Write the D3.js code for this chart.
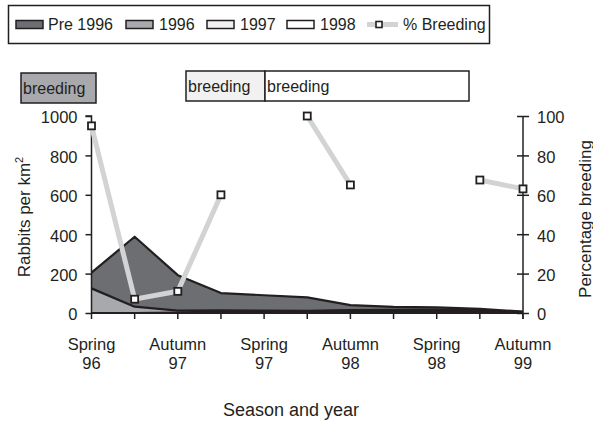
<!DOCTYPE html>
<html><head><meta charset="utf-8">
<script src="https://cdn.jsdelivr.net/npm/d3@7"></script>
<style>body{margin:0;background:#fff}svg{display:block;font-family:"Liberation Sans",Arial,sans-serif}</style>
</head><body><svg id="c" width="593" height="427"></svg>
<script>
const periods = ["Spring 96","","Autumn 97","","Spring 97","","Autumn 98","","Spring 98","","Autumn 99"];
const xLabels = [["Spring","96"],["Autumn","97"],["Spring","97"],["Autumn","98"],["Spring","98"],["Autumn","99"]];
const pre1996 = [80, 355, 180, 88, 78, 68, 25, 15, 12, 8, 2];
const y1996   = [125, 32, 10, 5, 4, 3, 3, 2, 2, 1, 0];
const y1997   = [0, 0, 2, 8, 8, 8, 8, 6, 5, 4, 2];
const y1998   = [0, 0, 0, 0, 0, 0, 4, 8, 10, 8, 3];
const breeding = [95, 7, 11, 60, null, 100, 65, null, null, 67.5, 63];
const leftTicks = [0,200,400,600,800,1000];
const rightTicks = [0,20,40,60,80,100];

const ink = "#231f20";
const colors = {"Pre 1996":"#6d6e71","1996":"#a7a9ac","1997":"#f1f1f2","1998":"#ffffff"};
const svg = d3.select("#c");
const X0 = 91.5, X1 = 523, Y0 = 313, Y1 = 116;
const x = d3.scaleLinear().domain([0, periods.length-1]).range([X0, X1]);
const yL = d3.scaleLinear().domain([0,1000]).range([Y0, Y1]);
const yR = d3.scaleLinear().domain([0,100]).range([Y0, Y1]);

// stacked areas
const rows = periods.map((p,i)=>({i, "1998":y1998[i], "1997":y1997[i], "1996":y1996[i], "Pre 1996":pre1996[i]}));
const keys = ["1998","1997","1996","Pre 1996"];
const stack = d3.stack().keys(keys)(rows);
const area = d3.area().x(d=>x(d.data.i)).y0(d=>yL(d[0])).y1(d=>yL(d[1]));
const topLine = d3.line().x(d=>x(d.data.i)).y(d=>yL(d[1]));
svg.append("g").selectAll("path").data(stack.slice().reverse()).join("path")
  .attr("d", area).attr("fill", d=>colors[d.key]);
svg.append("g").selectAll("path").data(stack).join("path")
  .attr("d", topLine).attr("fill","none").attr("stroke", ink).attr("stroke-width",2.2).attr("stroke-linejoin","round");

// x axis
svg.append("line").attr("x1",X0).attr("x2",X1).attr("y1",Y0).attr("y2",Y0).attr("stroke",ink).attr("stroke-width",2.2);
svg.append("g").selectAll("line").data(periods.map((p,i)=>i)).join("line")
  .attr("x1",d=>x(d)).attr("x2",d=>x(d)).attr("y1",Y0).attr("y2",Y0+6).attr("stroke",ink).attr("stroke-width",1.5);
const xl = svg.append("g").attr("font-size",16.5).attr("fill",ink).attr("text-anchor","middle");
xLabels.forEach((l,k)=>{
  xl.append("text").attr("x",x(k*2)).attr("y",349.5).text(l[0]);
  xl.append("text").attr("x",x(k*2)).attr("y",368.5).text(l[1]);
});
svg.append("text").attr("x",291).attr("y",416).attr("text-anchor","middle").attr("font-size",18).attr("fill",ink).text("Season and year");

// left axis
const gL = svg.append("g").attr("transform",`translate(${X0},0)`)
  .call(d3.axisLeft(yL).tickValues(leftTicks).tickFormat(d3.format("d")).tickSize(6).tickPadding(8));
gL.select(".domain").attr("stroke",ink).attr("stroke-width",1.5).attr("d",`M-6,${Y1}H0V${Y0}`);
gL.selectAll(".tick line").attr("stroke",ink).attr("stroke-width",1.5);
gL.selectAll("text").attr("font-size",16.5).attr("fill",ink).attr("font-family","Liberation Sans, Arial, sans-serif").attr("dy","0.42em");
const yt = svg.append("text").attr("transform","translate(29.5,217) rotate(-90)").attr("text-anchor","middle").attr("font-size",17).attr("fill",ink);
yt.append("tspan").text("Rabbits per km");
yt.append("tspan").attr("font-size",11).attr("dy",-7).text("2");

// right axis
const gR = svg.append("g").attr("transform",`translate(${X1},0)`)
  .call(d3.axisRight(yR).tickValues(rightTicks).tickSize(6).tickPadding(8));
gR.select(".domain").attr("stroke",ink).attr("stroke-width",1.5).attr("d",`M0,${Y1}V${Y0+6}`);
gR.selectAll(".tick line").attr("stroke",ink).attr("stroke-width",1.5).attr("x1",-6);
gR.selectAll("text").attr("font-size",16.5).attr("fill",ink).attr("font-family","Liberation Sans, Arial, sans-serif").attr("dy","0.42em");
svg.append("text").attr("transform","translate(590.5,219) rotate(-90)").attr("text-anchor","middle").attr("font-size",17).attr("fill",ink).text("Percentage breeding");

// breeding line
const bl = d3.line().defined(d=>d!=null).x((d,i)=>x(i)).y(d=>yR(d));
svg.append("path").attr("d",bl(breeding)).attr("fill","none").attr("stroke","#d1d3d4").attr("stroke-width",5);
svg.append("g").selectAll("rect").data(breeding.map((v,i)=>({v,i})).filter(d=>d.v!=null)).join("rect")
  .attr("x",d=>x(d.i)-3.5).attr("y",d=>yR(d.v)-3.5).attr("width",7).attr("height",7)
  .attr("fill","#fff").attr("stroke",ink).attr("stroke-width",1.8);

// breeding boxes
const boxes = [{x:21,y:73,w:75,h:30,fill:"#a7a9ac"},{x:186,y:71,w:79,h:30,fill:"#f1f1f2"},{x:265,y:71,w:204,h:30,fill:"#ffffff"}];
boxes.forEach(b=>{
  svg.append("rect").attr("x",b.x).attr("y",b.y).attr("width",b.w).attr("height",b.h).attr("fill",b.fill).attr("stroke",ink).attr("stroke-width",1.5);
  svg.append("text").attr("x",b.x+2).attr("y",b.y+21).attr("font-size",16).attr("fill",ink).text("breeding");
});

// legend
svg.append("rect").attr("x",8.5).attr("y",5.5).attr("width",481).attr("height",38).attr("fill","#fff").attr("stroke",ink).attr("stroke-width",1.5);
const leg = [{k:"Pre 1996",sx:16,tx:48},{k:"1996",sx:126,tx:159},{k:"1997",sx:207,tx:240},{k:"1998",sx:287,tx:320}];
leg.forEach(l=>{
  svg.append("rect").attr("x",l.sx).attr("y",20.5).attr("width",27).attr("height",8).attr("fill",colors[l.k]).attr("stroke",ink).attr("stroke-width",1.5);
  svg.append("text").attr("x",l.tx).attr("y",30).attr("font-size",16).attr("fill",ink).text(l.k);
});
svg.append("line").attr("x1",367).attr("x2",398).attr("y1",24.5).attr("y2",24.5).attr("stroke","#d1d3d4").attr("stroke-width",5);
svg.append("rect").attr("x",376).attr("y",21.5).attr("width",6).attr("height",6).attr("fill","#fff").attr("stroke",ink).attr("stroke-width",1.6);
svg.append("text").attr("x",403).attr("y",30).attr("font-size",16).attr("fill",ink).text("% Breeding");
</script></body></html>
